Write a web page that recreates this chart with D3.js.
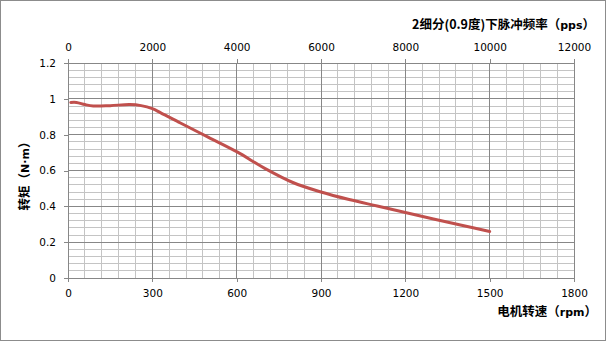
<!DOCTYPE html>
<html>
<head>
<meta charset="utf-8">
<script src="https://cdn.jsdelivr.net/npm/d3@7"></script>
<style>
  body { margin: 0; background: #fff; }
  .ttl { font-family: "Noto Sans CJK SC", sans-serif; font-size: 12.5px; font-weight: bold; fill: #000; }
  .lat { font-family: "DejaVu Sans", sans-serif; font-size: 11px; font-weight: bold; }
</style>
</head>
<body>
<div id="chart"></div>
<script>
// speed (rpm) vs torque (N·m)
const speed  = [10, 30, 60, 90, 150, 220, 260, 300, 330, 400, 500, 600, 700, 800, 900, 1000, 1100, 1200, 1300, 1400, 1500];
const torque = [0.98, 0.98, 0.968, 0.96, 0.962, 0.968, 0.962, 0.945, 0.922, 0.865, 0.785, 0.705, 0.612, 0.533, 0.48, 0.438, 0.402, 0.366, 0.329, 0.294, 0.26];

const rpmTicks = [0, 300, 600, 900, 1200, 1500, 1800];
const ppsTicks = [0, 2000, 4000, 6000, 8000, 10000, 12000];
const torqueTicks = [0, 0.2, 0.4, 0.6, 0.8, 1, 1.2];

const W = 606, H = 341;
const margin = {top: 63, right: 32, bottom: 63, left: 68};
const width = W - margin.left - margin.right,
      height = H - margin.top - margin.bottom;

const svg = d3.select('#chart').append('svg')
    .attr('width', W).attr('height', H);

svg.append('rect')
    .attr('x', 0.5).attr('y', 0.5)
    .attr('width', W - 1).attr('height', H - 1)
    .attr('fill', '#fff').attr('stroke', '#8c8c8c');

const g = svg.append('g')
    .attr('transform', 'translate(' + margin.left + ',' + margin.top + ')');

let x = d3.scaleLinear().domain([0, 1800]).range([0, width]);
let x2 = d3.scaleLinear().domain([0, 12000]).range([0, width]);
let y = d3.scaleLinear().domain([0, 1.2]).range([height, 0]);

// minor grid
g.append('g').selectAll('line')
    .data(d3.range(0, 1801, 60))
    .join('line')
    .attr('x1', d => x(d)).attr('x2', d => x(d))
    .attr('y1', 0).attr('y2', height)
    .attr('stroke', '#c4c4c4').attr('shape-rendering', 'crispEdges');

g.append('g').selectAll('line')
    .data(d3.range(0, 1.2001, 0.04))
    .join('line')
    .attr('x1', 0).attr('x2', width)
    .attr('y1', d => y(d)).attr('y2', d => y(d))
    .attr('stroke', '#c4c4c4').attr('shape-rendering', 'crispEdges');

// major grid
g.append('g').selectAll('line')
    .data(rpmTicks)
    .join('line')
    .attr('x1', d => x(d)).attr('x2', d => x(d))
    .attr('y1', 0).attr('y2', height)
    .attr('stroke', '#878787').attr('shape-rendering', 'crispEdges');

g.append('g').selectAll('line')
    .data(torqueTicks)
    .join('line')
    .attr('x1', 0).attr('x2', width)
    .attr('y1', d => y(d)).attr('y2', d => y(d))
    .attr('stroke', '#878787').attr('shape-rendering', 'crispEdges');

function styleAxis(sel) {
    sel.attr('font-family', '"DejaVu Sans", sans-serif').attr('font-size', 10.5);
    sel.select('.domain').attr('stroke', '#878787');
    sel.selectAll('.tick line').attr('stroke', '#878787');
    sel.selectAll('.tick text').attr('fill', '#000');
    sel.attr('shape-rendering', 'crispEdges');
}

g.append('g')
    .attr('transform', 'translate(0,' + height + ')')
    .call(d3.axisBottom(x).tickValues(rpmTicks).tickFormat(d3.format('d')).tickSize(4).tickSizeOuter(0).tickPadding(8))
    .call(styleAxis);

g.append('g')
    .call(d3.axisTop(x2).tickValues(ppsTicks).tickFormat(d3.format('d')).tickSize(4).tickSizeOuter(0).tickPadding(8))
    .call(styleAxis);

g.append('g')
    .call(d3.axisLeft(y).tickValues(torqueTicks).tickFormat(d3.format('~g')).tickSize(4).tickSizeOuter(0).tickPadding(8))
    .call(styleAxis);

const data = speed.map((s, i) => ({s: s, t: torque[i]}));

let valueLine = d3.line()
    .x(d => x(d.s))
    .y(d => y(d.t))
    .curve(d3.curveCatmullRom.alpha(0.5));

g.append('path')
    .datum(data)
    .attr('fill', 'none')
    .attr('stroke', '#c0504d')
    .attr('stroke-width', 3)
    .attr('stroke-linecap', 'round')
    .attr('d', valueLine);

// titles
let t1 = svg.append('text').attr('class', 'ttl')
    .attr('x', 595).attr('y', 29)
    .attr('text-anchor', 'end');
t1.append('tspan').text('2细分(0.9度)下脉冲频率（');
t1.append('tspan').attr('class', 'lat').text('pps');
t1.append('tspan').text('）');

let t2 = svg.append('text').attr('class', 'ttl')
    .attr('x', 597).attr('y', 316)
    .attr('text-anchor', 'end');
t2.append('tspan').text('电机转速（');
t2.append('tspan').attr('class', 'lat').text('rpm');
t2.append('tspan').text('）');

let t3 = svg.append('text').attr('class', 'ttl')
    .attr('transform', 'translate(29,173) rotate(-90)')
    .attr('text-anchor', 'middle');
t3.append('tspan').text('转矩（');
t3.append('tspan').attr('class', 'lat').text('N·m');
t3.append('tspan').text('）');
</script>
</body>
</html>
